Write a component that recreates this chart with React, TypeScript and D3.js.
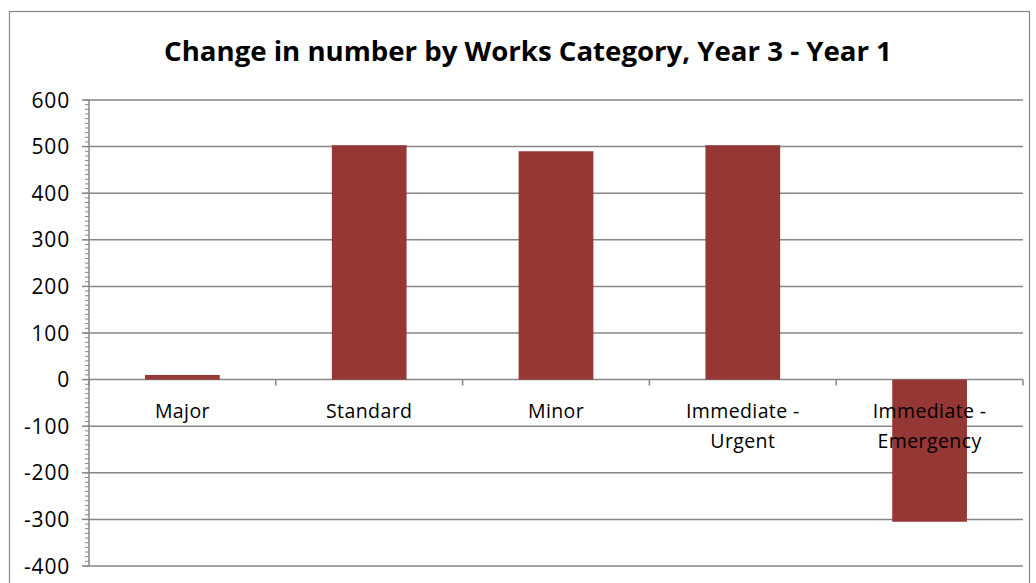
import React from "react";
import * as d3 from "d3";

const categories: string[][] = [
  ["Major"],
  ["Standard"],
  ["Minor"],
  ["Immediate -", "Urgent"],
  ["Immediate -", "Emergency"],
];
const values: number[] = [10, 503, 490, 503, -305];
const yTicks: number[] = [600, 500, 400, 300, 200, 100, 0, -100, -200, -300, -400];
const title = "Change in number by Works Category, Year 3 - Year 1";

const W = 1036;
const H = 583;
const left = 89;
const right = 1023;
const top = 100;
const bottom = 566;
const barColor = "#953735";
const gridColor = "#868686";
const font = "'Open Sans', 'Liberation Sans', sans-serif";

export default function App() {
  const y = d3.scaleLinear().domain([-400, 600]).range([bottom, top]);
  const x = d3
    .scaleBand<number>()
    .domain(d3.range(categories.length))
    .range([left, right])
    .paddingInner(0.6)
    .paddingOuter(0.3);
  const band = (right - left) / categories.length;
  const minor = d3.range(-400, 601, 10);
  const y0 = y(0);

  return (
    <svg
      width={W}
      height={H}
      style={{ position: "absolute", left: 0, top: 0, display: "block", background: "#fff" }}
    >
      <rect x={9.5} y={11.5} width={1020} height={600} fill="#fff" stroke={gridColor} strokeWidth={1.2} />
      <text
        x={528}
        y={61}
        textAnchor="middle"
        fontFamily={font}
        fontWeight="bold"
        fontSize={27.6}
        fill="#000"
      >
        {title}
      </text>
      {yTicks.map((t) => (
        <line key={"g" + t} x1={left} x2={right} y1={y(t)} y2={y(t)} stroke={gridColor} strokeWidth={1.5} />
      ))}
      {minor.map((t) => (
        <line key={"m" + t} x1={left - 4} x2={left} y1={y(t)} y2={y(t)} stroke={gridColor} strokeWidth={1} />
      ))}
      {yTicks.map((t) => (
        <g key={"t" + t}>
          <line x1={left - 7} x2={left} y1={y(t)} y2={y(t)} stroke={gridColor} strokeWidth={1.5} />
          <text
            x={70}
            y={y(t)}
            dy="0.36em"
            textAnchor="end"
            fontFamily={font}
            fontSize={21}
            letterSpacing={0.8}
            fill="#000"
          >
            {t}
          </text>
        </g>
      ))}
      <line x1={left} x2={left} y1={top} y2={bottom} stroke={gridColor} strokeWidth={1.5} />
      {values.map((v, i) => (
        <rect
          key={"b" + i}
          x={x(i)!}
          width={x.bandwidth()}
          y={Math.min(y(v), y0)}
          height={Math.abs(y(v) - y0)}
          fill={barColor}
        />
      ))}
      {d3.range(categories.length + 1).map((i) => (
        <line
          key={"xt" + i}
          x1={left + i * band}
          x2={left + i * band}
          y1={y0}
          y2={y0 + 6}
          stroke={gridColor}
          strokeWidth={1.5}
        />
      ))}
      {categories.map((lines, i) => (
        <text
          key={"c" + i}
          x={left + (i + 0.5) * band}
          y={418}
          textAnchor="middle"
          fontFamily={font}
          fontSize={19.5}
          letterSpacing={0.4}
          fill="#000"
        >
          {lines.map((l, j) => (
            <tspan key={j} x={left + (i + 0.5) * band} dy={j === 0 ? 0 : 30}>
              {l}
            </tspan>
          ))}
        </text>
      ))}
    </svg>
  );
}
